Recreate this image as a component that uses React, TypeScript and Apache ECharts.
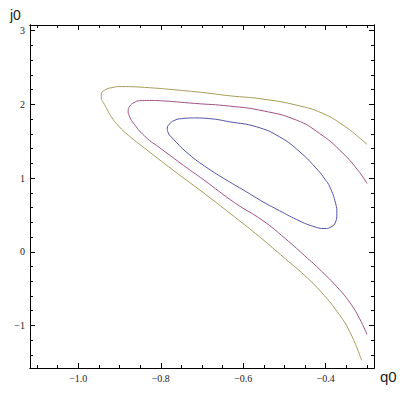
import React, { useEffect, useRef } from 'react';
import * as echarts from 'echarts';

// Axis ranges (frame extent)
const X_MIN = -1.117;
const X_MAX = -0.283;
const Y_MIN = -1.578;
const Y_MAX = 3.078;

// Tick values
const xMajorTicks = [-1.0, -0.8, -0.6, -0.4];
const xMinorTicks = [-1.1, -1.05, -1.0, -0.95, -0.9, -0.85, -0.8, -0.75, -0.7, -0.65, -0.6, -0.55, -0.5, -0.45, -0.4, -0.35, -0.3];
const yMajorTicks = [-1, 0, 1, 2, 3];
const yMinorTicks = [-1.4, -1.2, -1.0, -0.8, -0.6, -0.4, -0.2, 0, 0.2, 0.4, 0.6, 0.8, 1.0, 1.2, 1.4, 1.6, 1.8, 2.0, 2.2, 2.4, 2.6, 2.8, 3.0];

// Contour lines [q0, j0]
const blueContour: [number, number][] = [
  [-0.718, 1.817], [-0.681, 1.807], [-0.633, 1.764], [-0.568, 1.696], [-0.512, 1.560],
  [-0.463, 1.356], [-0.419, 1.107], [-0.402, 0.985], [-0.390, 0.880], [-0.376, 0.655],
  [-0.373, 0.519], [-0.376, 0.405], [-0.390, 0.329], [-0.402, 0.315], [-0.431, 0.346],
  [-0.471, 0.438], [-0.512, 0.557], [-0.552, 0.677], [-0.592, 0.813], [-0.633, 0.948],
  [-0.685, 1.130], [-0.734, 1.334], [-0.774, 1.556], [-0.782, 1.617], [-0.784, 1.678],
  [-0.779, 1.732], [-0.768, 1.780], [-0.750, 1.807], [-0.718, 1.817],
];

const purpleContour: [number, number][] = [
  [-0.300, 0.927], [-0.322, 1.107], [-0.366, 1.379], [-0.415, 1.606], [-0.471, 1.787],
  [-0.552, 1.913], [-0.633, 1.977], [-0.718, 2.014], [-0.798, 2.049], [-0.827, 2.054],
  [-0.851, 2.050], [-0.865, 2.024], [-0.875, 1.977], [-0.879, 1.909], [-0.876, 1.841],
  [-0.868, 1.760], [-0.839, 1.569], [-0.798, 1.393], [-0.734, 1.128], [-0.698, 0.985],
  [-0.621, 0.666], [-0.552, 0.421], [-0.499, 0.183], [-0.451, -0.054], [-0.410, -0.265],
  [-0.373, -0.476], [-0.342, -0.686], [-0.318, -0.908], [-0.300, -1.121],
];

const oliveContour: [number, number][] = [
  [-0.300, 1.457], [-0.326, 1.583], [-0.358, 1.719], [-0.407, 1.878], [-0.471, 1.990],
  [-0.552, 2.072], [-0.633, 2.117], [-0.693, 2.158], [-0.758, 2.194], [-0.839, 2.231],
  [-0.895, 2.242], [-0.919, 2.228], [-0.936, 2.194], [-0.944, 2.140], [-0.944, 2.086],
  [-0.939, 2.024], [-0.931, 1.943], [-0.920, 1.832], [-0.902, 1.705], [-0.879, 1.583],
  [-0.839, 1.406], [-0.770, 1.107], [-0.705, 0.836], [-0.621, 0.473], [-0.560, 0.201],
  [-0.499, -0.091], [-0.451, -0.322], [-0.410, -0.553], [-0.373, -0.808], [-0.342, -1.083],
  [-0.313, -1.474],
];

const LABEL_FONT = '"Liberation Serif", "DejaVu Serif", serif';
const NAME_FONT = '"Liberation Sans", Arial, sans-serif';

const fmtX = (v: number) => v.toFixed(1).replace('-', '\u2212');
const fmtY = (v: number) => String(Math.round(v)).replace('-', '\u2212');

function xAxisCfg(position: 'top' | 'bottom', ticks: number[], len: number, labels: boolean) {
  return {
    type: 'value',
    gridIndex: 0,
    position,
    min: X_MIN,
    max: X_MAX,
    axisLine: { show: true, onZero: false, lineStyle: { color: '#000', width: 1 } },
    axisTick: { show: true, inside: true, length: len, customValues: ticks, lineStyle: { color: '#000', width: 1 } },
    axisLabel: {
      show: labels,
      customValues: xMajorTicks,
      formatter: fmtX,
      margin: 5,
      fontFamily: LABEL_FONT,
      fontSize: 10,
      color: '#222',
    },
    splitLine: { show: false },
  };
}

function yAxisCfg(position: 'left' | 'right', ticks: number[], len: number, labels: boolean) {
  return {
    type: 'value',
    gridIndex: 0,
    position,
    min: Y_MIN,
    max: Y_MAX,
    axisLine: { show: true, onZero: false, lineStyle: { color: '#000', width: 1 } },
    axisTick: { show: true, inside: true, length: len, customValues: ticks, lineStyle: { color: '#000', width: 1 } },
    axisLabel: {
      show: labels,
      customValues: yMajorTicks,
      formatter: fmtY,
      margin: 5,
      fontFamily: LABEL_FONT,
      fontSize: 10,
      color: '#222',
    },
    splitLine: { show: false },
  };
}

function lineSeries(name: string, data: [number, number][], color: string) {
  return {
    name,
    type: 'line',
    xAxisIndex: 0,
    yAxisIndex: 0,
    data,
    showSymbol: false,
    symbol: 'none',
    smooth: 0.5,
    lineStyle: { color, width: 1 },
    silent: true,
  };
}

export default function App() {
  const ref = useRef<HTMLDivElement>(null);
  useEffect(() => {
    const chart = echarts.init(ref.current!, null, { renderer: 'svg' });
    chart.setOption({
      animation: false,
      backgroundColor: '#ffffff',
      grid: { left: 30, top: 25, right: 37, bottom: 27, containLabel: false },
      xAxis: [
        xAxisCfg('bottom', xMinorTicks, 3, false),
        xAxisCfg('bottom', xMajorTicks, 5, true),
        xAxisCfg('top', xMinorTicks, 3, false),
        xAxisCfg('top', xMajorTicks, 5, false),
      ],
      yAxis: [
        yAxisCfg('left', yMinorTicks, 3, false),
        yAxisCfg('left', yMajorTicks, 5, true),
        yAxisCfg('right', yMinorTicks, 3, false),
        yAxisCfg('right', yMajorTicks, 5, false),
      ],
      series: [
        lineSeries('level 1', blueContour, '#5252a4'),
        lineSeries('level 2', purpleContour, '#a05285'),
        lineSeries('level 3', oliveContour, '#a59d5a'),
      ],
      graphic: [
        { type: 'text', left: 10, top: 8, style: { text: 'j0', font: `14px ${NAME_FONT}`, fill: '#222' } },
        { type: 'text', left: 380, top: 369, style: { text: 'q0', font: `15px ${NAME_FONT}`, fill: '#222' } },
      ],
    });
    return () => chart.dispose();
  }, []);
  return (
    <div
      ref={ref}
      style={{ position: 'fixed', left: 0, top: 0, width: 411, height: 395, background: '#fff' }}
    />
  );
}
